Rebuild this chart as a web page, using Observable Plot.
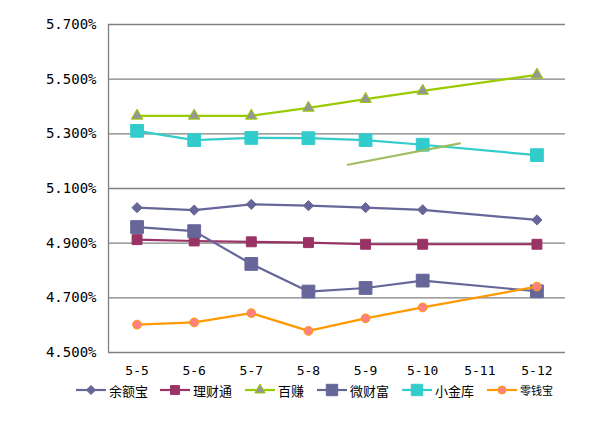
<!DOCTYPE html>
<html><head><meta charset="utf-8">
<script src="https://cdn.jsdelivr.net/npm/d3@7"></script>
<script src="https://cdn.jsdelivr.net/npm/@observablehq/plot@0.6"></script>
<style>
body{margin:0;background:#fff;width:604px;height:435px;overflow:hidden;}
#legend{position:relative;height:24px;width:604px;}
.item{position:absolute;top:0;display:flex;align-items:center;height:20px;font-family:"Noto Sans CJK SC",sans-serif;color:#000;}
.item svg{margin-right:3px;}
</style></head><body>
<div id="chart"></div>
<div id="legend"></div>
<script>
// ---- data ----
const dates = ["5-5","5-6","5-7","5-8","5-9","5-10","5-11","5-12"];
const yTicks = [4.5, 4.7, 4.9, 5.1, 5.3, 5.5, 5.7];
const seriesNames = ["余额宝","理财通","百赚","微财富","小金库","零钱宝"];
const yuebao   = [5.030, 5.021, 5.042, 5.037, 5.030, 5.022, null, 4.985];
const licaitong= [4.913, 4.908, 4.905, 4.902, 4.896, 4.896, null, 4.896];
const baizhuan = [5.366, 5.366, 5.366, 5.395, 5.427, 5.457, null, 5.516];
const weicaifu = [4.959, 4.944, 4.824, 4.723, 4.736, 4.763, null, 4.724];
const xiaojinku= [5.311, 5.277, 5.285, 5.284, 5.277, 5.260, null, 5.222];
const lingqianbao=[4.602, 4.610, 4.644, 4.579, 4.625, 4.665, null, 4.741];
const trendX = [3.69, 5.65];
const trendY = [5.187, 5.265];

// ---- styles ----
const allValues = [yuebao, licaitong, baizhuan, weicaifu, xiaojinku, lingqianbao];
const styles = [
  {line:"#666699", fill:"#666699", stroke:"#666699", symbol:"diamond2", r:4.6},
  {line:"#993366", fill:"#993366", stroke:"#993366", symbol:"square", r:5.6},
  {line:"#99CC00", fill:"#969696", stroke:"#99CC00", symbol:"triangle", r:4.3},
  {line:"#666699", fill:"#666699", stroke:"#666699", symbol:"square", r:7.2},
  {line:"#33CCCC", fill:"#33CCCC", stroke:"#33CCCC", symbol:"square", r:7.2},
  {line:"#FF9900", fill:"#FF8080", stroke:"#FF9900", symbol:"circle", r:4.4}
];

const marks = [
  Plot.gridY(yTicks, {stroke:"#808080", strokeOpacity:1, strokeWidth:1.3}),
  Plot.ruleX([-0.5], {stroke:"#808080", strokeWidth:1.3}),
  Plot.axisY(yTicks, {tickSize:0, tickPadding:12, tickFormat:d => d.toFixed(3) + "%", fontSize:14, label:null}),
  Plot.axisX(d3.range(dates.length), {tickSize:0, tickPadding:13, tickFormat:i => dates[i], fontSize:13, label:null})
];
allValues.forEach((vals, k) => {
  const data = vals.map((v, i) => ({i, v})).filter(d => d.v != null);
  const s = styles[k];
  marks.push(Plot.line(data, {x:"i", y:"v", stroke:s.line, strokeWidth:2.2}));
  marks.push(Plot.dot(data, {x:"i", y:"v", symbol:s.symbol, r:s.r, fill:s.fill, stroke:s.stroke, strokeWidth:1}));
});
const trend = trendX.map((x, i) => ({x, y: trendY[i]}));
marks.push(Plot.line(trend, {x:"x", y:"y", stroke:"#9BBB59", strokeWidth:2.2, strokeOpacity:0.95}));

const chart = Plot.plot({
  width:604, height:380,
  marginLeft:108, marginRight:39, marginTop:24, marginBottom:28,
  x:{type:"linear", domain:[-0.5, 7.5]},
  y:{domain:[4.5, 5.7]},
  style:{fontFamily:"'DejaVu Sans Mono', monospace", fontSize:"13px", color:"#000", background:"#fff"},
  marks
});
document.getElementById("chart").appendChild(chart);

// ---- legend ----
const legendLeft = [76, 160, 245, 317, 402, 487];
const legendFont = [13, 13, 13, 13, 13, 11];
const lg = document.getElementById("legend");
function symbolPath(s){
  const size = Math.PI * s.r * s.r * 0.8;
  const map = {diamond2:d3.symbolDiamond2, square:d3.symbolSquare, triangle:d3.symbolTriangle, circle:d3.symbolCircle};
  return d3.symbol(map[s.symbol], size)();
}
seriesNames.forEach((name, k) => {
  const s = styles[k];
  const div = document.createElement("div");
  div.className = "item";
  div.style.left = legendLeft[k] + "px";
  div.style.fontSize = legendFont[k] + "px";
  div.innerHTML = `<svg width="30" height="16"><line x1="0" x2="30" y1="8" y2="8" stroke="${s.line}" stroke-width="2.2"/>` +
    `<path transform="translate(15,8)" d="${symbolPath(s)}" fill="${s.fill}" stroke="${s.stroke}" stroke-width="1"/></svg><span>${name}</span>`;
  lg.appendChild(div);
});
</script>
</body></html>
